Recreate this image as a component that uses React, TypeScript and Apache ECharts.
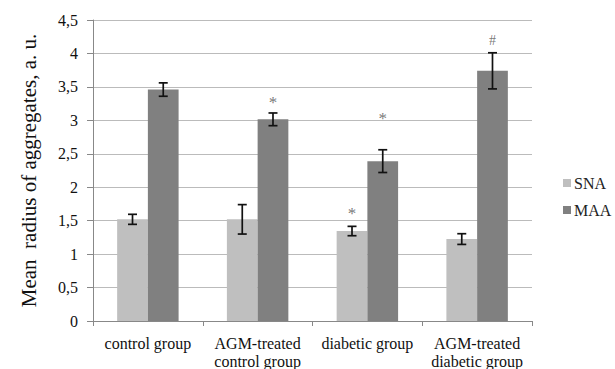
import React, { useEffect, useRef } from "react";
import * as echarts from "echarts";

const categories = ["control group", "AGM-treated\ncontrol group", "diabetic group", "AGM-treated\ndiabetic group"];
const snaValues = [1.52, 1.52, 1.345, 1.225];
const snaErrors = [0.075, 0.22, 0.07, 0.08];
const maaValues = [3.46, 3.015, 2.39, 3.74];
const maaErrors = [0.1, 0.095, 0.17, 0.27];
const snaMarks = ["", "", "*", ""];
const snaMarkY = [0, 0, 1.66, 0];
const maaMarks = ["", "*", "*", "#"];
const maaMarkY = [0, 3.33, 3.09, 4.2];
const yTicks = [0, 0.5, 1, 1.5, 2, 2.5, 3, 3.5, 4, 4.5];

const FONT = "Liberation Serif";

function errSeries(name: string, values: number[], errors: number[], side: number) {
  return {
    type: "custom",
    name: name + "-err",
    z: 10,
    silent: true,
    data: values.map((v, i) => [i, v, errors[i]]),
    renderItem: (params: any, api: any) => {
      const i = api.value(0);
      const v = api.value(1);
      const e = api.value(2);
      const band = api.size([1, 0])[0];
      const c = api.coord([i, v]);
      const x = c[0] + side * band * 0.14;
      const top = api.coord([i, v + e])[1];
      const bot = api.coord([i, v - e])[1];
      const cap = 4.5;
      const st = { stroke: "#111", lineWidth: 1.7 };
      return {
        type: "group",
        children: [
          { type: "line", shape: { x1: x, y1: top, x2: x, y2: bot }, style: st },
          { type: "line", shape: { x1: x - cap, y1: top, x2: x + cap, y2: top }, style: st },
          { type: "line", shape: { x1: x - cap, y1: bot, x2: x + cap, y2: bot }, style: st },
        ],
      };
    },
  };
}

function markSeries(marks: string[], markY: number[], side: number) {
  return {
    type: "scatter",
    silent: true,
    z: 11,
    symbolSize: 0,
    itemStyle: { color: "transparent" },
    data: marks
      .map((m, i) => ({
        value: [i, markY[i]],
        name: m,
        label: m === "*" ? { fontSize: 17, offset: [side * 15.4, 4] } : { fontSize: 14, offset: [side * 15.4, 0] },
      }))
      .filter((d) => d.name),
    label: {
      show: true,
      position: "inside",
      formatter: (p: any) => p.name,
      fontFamily: FONT,
      color: "#555",
    },
  };
}

export default function App() {
  const ref = useRef<HTMLDivElement>(null);
  useEffect(() => {
    const chart = echarts.init(ref.current!, null, { renderer: "svg" });
    chart.setOption({
      animation: false,
      backgroundColor: "#fff",
      textStyle: { fontFamily: FONT },
      grid: { left: 93, right: 83, top: 20, bottom: 48 },
      legend: {
        orient: "vertical",
        left: 558,
        top: 170,
        itemWidth: 8,
        itemHeight: 8,
        itemGap: 11,
        icon: "rect",
        data: ["SNA", "MAA"],
        textStyle: { fontFamily: FONT, fontSize: 16, color: "#222", padding: [0, 0, 0, -2] },
      },
      xAxis: {
        type: "category",
        data: categories,
        axisLine: { lineStyle: { color: "#888" } },
        axisTick: { show: true, length: 5, lineStyle: { color: "#888" } },
        axisLabel: {
          margin: 13,
          interval: 0,
          formatter: (v: string) => v.split("\n").map((s) => "{a|" + s + "}").join("\n"),
          rich: { a: { fontFamily: FONT, fontSize: 16, color: "#111", lineHeight: 18 } },
        },
      },
      yAxis: {
        type: "value",
        min: 0,
        max: 4.5,
        interval: 0.5,
        name: "Mean  radius of aggregates, a. u.",
        nameLocation: "middle",
        nameGap: 54,
        nameTextStyle: { fontFamily: FONT, fontSize: 21, color: "#111" },
        axisLine: { show: true, lineStyle: { color: "#888" } },
        axisTick: { show: true, length: 6, lineStyle: { color: "#888" } },
        splitLine: { lineStyle: { color: "#bbb", width: 1 } },
        axisLabel: {
          fontFamily: FONT,
          fontSize: 16,
          color: "#111",
          margin: 15,
          formatter: (v: number) => (yTicks.includes(v) ? String(v).replace(".", ",") : ""),
        },
      },
      series: [
        { type: "bar", name: "SNA", data: snaValues, itemStyle: { color: "#bfbfbf" }, barGap: "0%", barCategoryGap: "44%" },
        { type: "bar", name: "MAA", data: maaValues, itemStyle: { color: "#808080" } },
        errSeries("SNA", snaValues, snaErrors, -1),
        errSeries("MAA", maaValues, maaErrors, 1),
        markSeries(snaMarks, snaMarkY, -1),
        markSeries(maaMarks, maaMarkY, 1),
      ],
    });
    return () => chart.dispose();
  }, []);
  return <div ref={ref} style={{ width: 615, height: 369, position: "absolute", left: 0, top: 0 }} />;
}
